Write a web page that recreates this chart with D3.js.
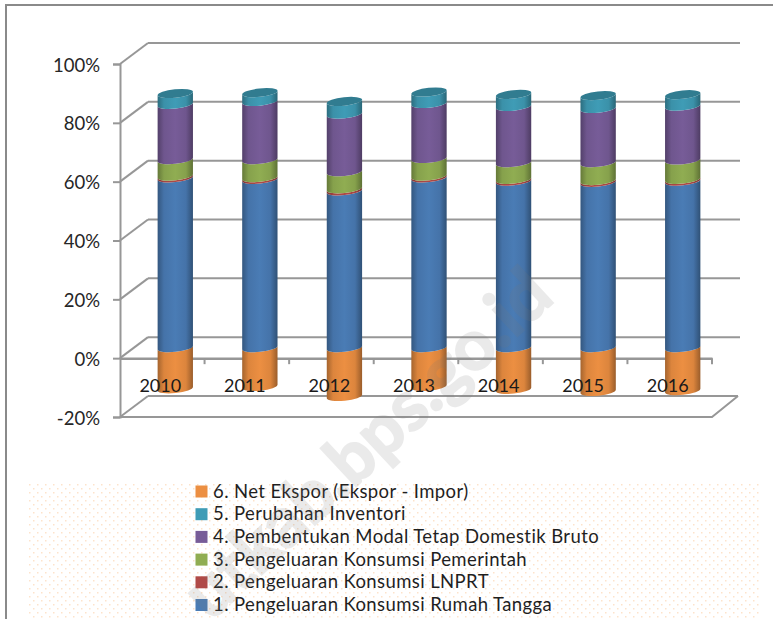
<!DOCTYPE html>
<html>
<head>
<meta charset="utf-8">
<script src="https://cdn.jsdelivr.net/npm/d3@7"></script>
<style>
  html, body { margin: 0; padding: 0; background: #fff; overflow: hidden; }
  text { font-family: Lato, "Open Sans", sans-serif; }
</style>
</head>
<body>
<div id="canvas"></div>
<script>
const years = ['2010', '2011', '2012', '2013', '2014', '2015', '2016'];
const axisTicks = [-20, 0, 20, 40, 60, 80, 100];

// share of each component, percent
const rumahTangga = [57.7, 57.2, 53.3, 57.7, 56.6, 56.2, 56.6];
const lnprt = [0.6, 0.6, 0.7, 0.6, 0.6, 0.6, 0.6];
const pemerintah = [5.6, 6.1, 5.8, 6.0, 5.7, 6.1, 6.6];
const modalTetap = [18.8, 19.8, 19.6, 18.7, 19.1, 18.4, 18.3];
const inventori = [3.7, 3.0, 4.3, 3.9, 4.1, 4.4, 3.9];
const netEkspor = [-14.0, -13.2, -16.6, -13.2, -14.2, -14.9, -14.6];

const seriesNames = [
  '1. Pengeluaran Konsumsi Rumah Tangga',
  '2. Pengeluaran Konsumsi LNPRT',
  '3. Pengeluaran Konsumsi Pemerintah',
  '4. Pembentukan Modal Tetap Domestik Bruto',
  '5. Perubahan Inventori',
  '6. Net Ekspor (Ekspor - Impor)'
];
const seriesColors = ['#4a7cb5', '#b04a47', '#90ad52', '#775c98', '#3f9cb6', '#ec8f42'];
const positiveSeries = [rumahTangga, lnprt, pemerintah, modalTetap, inventori];

const width = 773, height = 619;
const depthX = 28, depthY = -21;         // offset of the back wall
const barShiftX = 13, barShiftY = -10.5; // bars stand in the middle of the depth
const ry = 4.2, tilt = -6;               // ellipse of the cylinder

const svg = d3.select('#canvas').append('svg')
  .attr('width', width)
  .attr('height', height);

const y = d3.scaleLinear().domain([-20, 100]).range([417, 64]);
const x = d3.scaleBand().domain(years).range([120, 712]).paddingInner(0.58).paddingOuter(0.29);
const rx = x.bandwidth() / 2;
const dx = rx * Math.cos(tilt * Math.PI / 180);
const dy = rx * Math.sin(tilt * Math.PI / 180);

const defs = svg.append('defs');

// cylinder shading, dark only near the sides
seriesColors.forEach((c, i) => {
  const g = defs.append('linearGradient').attr('id', 'shade' + i);
  const col = d3.color(c);
  g.append('stop').attr('offset', '0%').attr('stop-color', col.darker(1.0));
  g.append('stop').attr('offset', '18%').attr('stop-color', col.darker(0.2));
  g.append('stop').attr('offset', '50%').attr('stop-color', col);
  g.append('stop').attr('offset', '80%').attr('stop-color', col.darker(0.2));
  g.append('stop').attr('offset', '100%').attr('stop-color', col.darker(1.2));
});

// dotted legend background
const dots = defs.append('pattern').attr('id', 'dots')
  .attr('width', 16).attr('height', 8).attr('patternUnits', 'userSpaceOnUse')
  .attr('x', 29).attr('y', 484);
dots.append('rect').attr('x', 0).attr('y', 0).attr('width', 1.5).attr('height', 1.5).attr('fill', '#fde3cb');
dots.append('rect').attr('x', 4).attr('y', 4).attr('width', 1.5).attr('height', 1.5).attr('fill', '#fde3cb');
dots.append('rect').attr('x', 8).attr('y', 0).attr('width', 1.5).attr('height', 1.5).attr('fill', '#fde3cb');
dots.append('rect').attr('x', 12).attr('y', 4).attr('width', 1.5).attr('height', 1.5).attr('fill', '#fde3cb');

svg.append('rect')
  .attr('x', 28).attr('y', 483).attr('width', 732).attr('height', 136)
  .attr('fill', 'url(#dots)');

// outer frame, open at right and bottom
svg.append('path')
  .attr('d', 'M6,619V5H773')
  .attr('fill', 'none')
  .attr('stroke', '#8a8a8a')
  .attr('stroke-width', 2);

const lineColor = '#979797';
const x0 = x.range()[0], x1 = x.range()[1];
const grid = svg.append('g').attr('fill', 'none').attr('stroke', lineColor).attr('stroke-width', 2);

// back wall and side wall gridlines
axisTicks.forEach(t => {
  grid.append('line')
    .attr('x1', x0 + depthX).attr('x2', x1 + depthX - (t === -20 ? 2 : 0))
    .attr('y1', y(t) + depthY).attr('y2', y(t) + depthY);
  grid.append('line')
    .attr('x1', x0).attr('x2', x0 + depthX)
    .attr('y1', y(t)).attr('y2', y(t) + depthY);
});

// floor
grid.append('path')
  .attr('d', `M${x0},${y(-20)}H${x1}L${x1 + depthX - 2},${y(-20) + depthY}`);

// value axis
const yAxis = d3.axisLeft(y).tickValues(axisTicks).tickSize(7).tickPadding(13).tickFormat(d => d + '%');
const yG = svg.append('g').attr('transform', `translate(${x0},0)`).call(yAxis);
yG.select('.domain').attr('stroke', lineColor).attr('stroke-width', 2);
yG.selectAll('.tick line').attr('stroke', lineColor).attr('stroke-width', 2);
yG.selectAll('text').attr('font-size', 18.5).attr('fill', '#262626').attr('dy', '0.38em').style('font-family', 'Lato');

// zero line with its category ticks
const xAxis = d3.axisBottom(x).tickSize(0).tickFormat('');
const xG = svg.append('g').attr('transform', `translate(0,${y(0)})`).call(xAxis);
xG.select('.domain').attr('stroke', lineColor).attr('stroke-width', 2.5);
xG.selectAll('.tick').remove();
xG.selectAll('line.sep').data(years).join('line').attr('class', 'sep')
  .attr('x1', d => x(d) + x.bandwidth() + x.step() * x.paddingInner() / 2)
  .attr('x2', d => x(d) + x.bandwidth() + x.step() * x.paddingInner() / 2)
  .attr('y1', 0).attr('y2', 6)
  .attr('stroke', lineColor).attr('stroke-width', 2);

// one piece of a cylinder between two values
function segment(cx, v0, v1) {
  const yb = y(v0) + barShiftY, yt = y(v1) + barShiftY;
  const p = `M${cx - dx},${yb - dy}`
    + `A${rx},${ry} ${tilt} 0 0 ${cx + dx},${yb + dy}`
    + `L${cx + dx},${yt + dy}`
    + `A${rx},${ry} ${tilt} 0 1 ${cx - dx},${yt - dy}Z`;
  return p;
}

const bars = svg.selectAll('g.bar').data(years).join('g').attr('class', 'bar');

bars.each(function (year, i) {
  const g = d3.select(this);
  const cx = x(year) + rx + barShiftX;

  // negative part first, the blue one sits on it
  g.append('path')
    .attr('d', segment(cx, netEkspor[i], 0))
    .attr('fill', 'url(#shade5)');

  let base = 0;
  positiveSeries.forEach((s, k) => {
    g.append('path')
      .attr('d', segment(cx, base, base + s[i]))
      .attr('fill', `url(#shade${k})`);
    base += s[i];
  });

  // top of the stack
  g.append('ellipse')
    .attr('cx', cx).attr('cy', y(base) + barShiftY)
    .attr('rx', rx).attr('ry', ry)
    .attr('transform', `rotate(${tilt} ${cx} ${y(base) + barShiftY})`)
    .attr('fill', '#317c90');
});

// year labels lie over the bars
svg.selectAll('text.year').data(years).join('text').attr('class', 'year')
  .attr('x', d => x(d) + rx - 2)
  .attr('y', 392)
  .attr('text-anchor', 'middle')
  .attr('font-size', 18)
  .attr('fill', '#1a1a1a')
  .text(d => d);

// legend, last series on top
const legendRows = [5, 4, 3, 2, 1, 0];
const legendY = d3.scalePoint().domain(legendRows).range([491.5, 605]);
const legend = svg.selectAll('g.legend').data(legendRows).join('g').attr('class', 'legend')
  .attr('transform', d => `translate(195.5,${legendY(d)})`);
legend.append('rect')
  .attr('x', 0).attr('y', -6).attr('width', 12).attr('height', 12)
  .attr('fill', d => seriesColors[d]);
legend.append('text')
  .attr('x', 17.5).attr('y', 6)
  .attr('font-size', 18.5)
  .attr('letter-spacing', 0.4)
  .attr('fill', '#1f1f1f')
  .text(d => seriesNames[d]);

// watermark over everything
svg.append('text')
  .attr('transform', 'translate(556,300) rotate(-43)')
  .attr('text-anchor', 'end')
  .attr('font-size', 70)
  .attr('font-weight', 700)
  .attr('fill', '#787878')
  .attr('stroke', '#787878')
  .attr('stroke-width', 2)
  .attr('opacity', 0.15)
  .text('utkab.bps.go.id');
</script>
</body>
</html>
